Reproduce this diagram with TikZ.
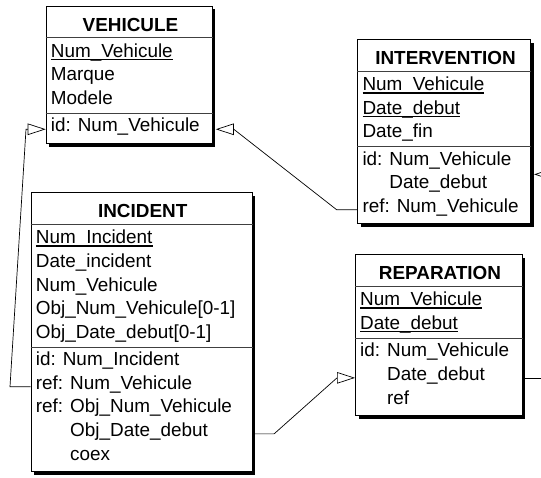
\documentclass[tikz,border=0pt]{standalone}
\usepackage{fontspec}
\setmainfont{Liberation Sans}
\usetikzlibrary{arrows.meta,shadows,calc}

% attribute and title fonts
\newcommand\attrfont{\fontsize{18.9}{23.6}\selectfont}
\newcommand\titlefont{\bfseries\fontsize{18.9}{23.6}\selectfont}
% underlined identifier attribute
\newcommand\pk[1]{\setbox0\hbox{#1}\rlap{\rule[-0.16em]{\wd0}{0.075em}}\box0}

\begin{document}
\begin{tikzpicture}[x=1pt,y=-1pt,
  ent/.style={draw, line width=0.8pt, fill=white, anchor=north west, inner sep=0pt,
    general shadow={fill=black, shadow xshift=3.3pt, shadow yshift=-3.3pt}},
  seprule/.style={line width=0.8pt, draw=black!75},
  attr/.style={anchor=base west, inner sep=0pt, font=\attrfont},
  etitle/.style={anchor=base, inner sep=0pt, font=\titlefont},
  link/.style={line width=0.7pt},
  fk/.style={link, -{Triangle[open, length=18pt, width=11.5pt, line width=0.7pt]}},
]
\useasboundingbox (0,0) rectangle (541,477);
\fill[white] (0,0) rectangle (541,477);
\clip (0,0) rectangle (541,477);

% ---------- VEHICULE ----------
\node[ent, minimum width=166pt, minimum height=137.2pt] (veh) at (45.7,5.7) {};
\draw[seprule] ([yshift=-32pt]veh.north west) -- ([yshift=-32pt]veh.north east);
\draw[seprule] ([yshift=-107.7pt]veh.north west) -- ([yshift=-107.7pt]veh.north east);
\node[etitle] (vehT) at (130.5,31) {VEHICULE};
\node[attr] (vnum) at (50.7,57.2) {\pk{Num\_Vehicule}};
\node[attr] (vmar) at (50.7,80.8) {Marque};
\node[attr] (vmod) at (50.7,104.4) {Modele};
\node[attr] (vid)  at (50.7,131.9) {id: Num\_Vehicule};

% ---------- INTERVENTION ----------
\node[ent, minimum width=172.7pt, minimum height=184.4pt] (int) at (357.3,39) {};
\draw[seprule] ([yshift=-32pt]int.north west) -- ([yshift=-32pt]int.north east);
\draw[seprule] ([yshift=-107.7pt]int.north west) -- ([yshift=-107.7pt]int.north east);
\node[etitle] (intT) at (445.5,64.3) {INTERVENTION};
\node[attr] (inum) at (362.3,90.5) {\pk{Num\_Vehicule}};
\node[attr] (idat) at (362.3,114.1) {\pk{Date\_debut}};
\node[attr] (ifin) at (362.3,137.7) {Date\_fin};
\node[attr] (iid)  at (362.3,165.2) {id: Num\_Vehicule};
\node[attr] (idd)  at (362.3,188.8) {\phantom{id: }Date\_debut};
\node[attr] (iref) at (362.3,212.4) {ref: Num\_Vehicule};

% ---------- INCIDENT ----------
\node[ent, minimum width=221pt, minimum height=278.8pt] (inc) at (30.7,192.3) {};
\draw[seprule] ([yshift=-32pt]inc.north west) -- ([yshift=-32pt]inc.north east);
\draw[seprule] ([yshift=-154.9pt]inc.north west) -- ([yshift=-154.9pt]inc.north east);
\node[etitle] (incT) at (142.7,217.6) {INCIDENT};
\node[attr] (cnum)  at (35.7,243.8) {\pk{Num\_Incident}};
\node[attr] (cdat)  at (35.7,267.4) {Date\_incident};
\node[attr] (cveh)  at (35.7,291.0) {Num\_Vehicule};
\node[attr] (conv)  at (35.7,314.6) {Obj\_Num\_Vehicule[0-1]};
\node[attr] (codd)  at (35.7,338.2) {Obj\_Date\_debut[0-1]};
\node[attr] (cid)   at (35.7,365.7) {id: Num\_Incident};
\node[attr] (cref)  at (35.7,389.3) {ref: Num\_Vehicule};
\node[attr] (cref2) at (35.7,412.9) {ref: Obj\_Num\_Vehicule};
\node[attr] (cref2b) at (35.7,436.5) {\phantom{ref: }Obj\_Date\_debut};
\node[attr] (ccoex) at (35.7,460.1) {\phantom{ref: }coex};

% ---------- REPARATION ----------
\node[ent, minimum width=166.7pt, minimum height=160.8pt] (rep) at (355,254.3) {};
\draw[seprule] ([yshift=-32pt]rep.north west) -- ([yshift=-32pt]rep.north east);
\draw[seprule] ([yshift=-84.1pt]rep.north west) -- ([yshift=-84.1pt]rep.north east);
\node[etitle] (repT) at (440,279.6) {REPARATION};
\node[attr] (rnum) at (360,305.8) {\pk{Num\_Vehicule}};
\node[attr] (rdat) at (360,329.4) {\pk{Date\_debut}};
\node[attr] (rid)  at (360,356.9) {id: Num\_Vehicule};
\node[attr] (rdd)  at (360,380.5) {\phantom{id: }Date\_debut};
\node[attr] (rref) at (360,404.1) {\phantom{id: }ref};

% ---------- references ----------
\coordinate (igrp) at ($(iid.mid)!0.5!(idd.mid)$);
\coordinate (offR) at (562,0);

% INCIDENT.Num_Vehicule -> VEHICULE
\draw[fk] (cref.mid -| inc.west) -- ([xshift=-20.7pt]cref.mid -| inc.west)
  -- ([xshift=-19.7pt]vid.mid -| veh.west) -- (vid.mid -| veh.west);
% INTERVENTION.Num_Vehicule -> VEHICULE
\draw[fk] (iref.mid -| int.west) -- ([xshift=-20.6pt]iref.mid -| int.west)
  -- ([xshift=21.3pt]vid.mid -| veh.east) -- ([xshift=3.3pt]vid.mid -| veh.east);
% INCIDENT.(Obj_Num_Vehicule, Obj_Date_debut) -> REPARATION
\draw[fk] (cref2b.mid -| inc.east) -- ([xshift=21.6pt]cref2b.mid -| inc.east)
  -- ([xshift=-18pt]rdd.mid -| rep.west) -- (rdd.mid -| rep.west);
% REPARATION -> INTERVENTION
\draw[fk] (rdd.mid -| rep.east) -- (rdd.mid -| offR) -- (igrp -| offR)
  -- ([xshift=21.3pt]igrp -| int.east) -- ([xshift=3.3pt]igrp -| int.east);
\end{tikzpicture}
\end{document}
